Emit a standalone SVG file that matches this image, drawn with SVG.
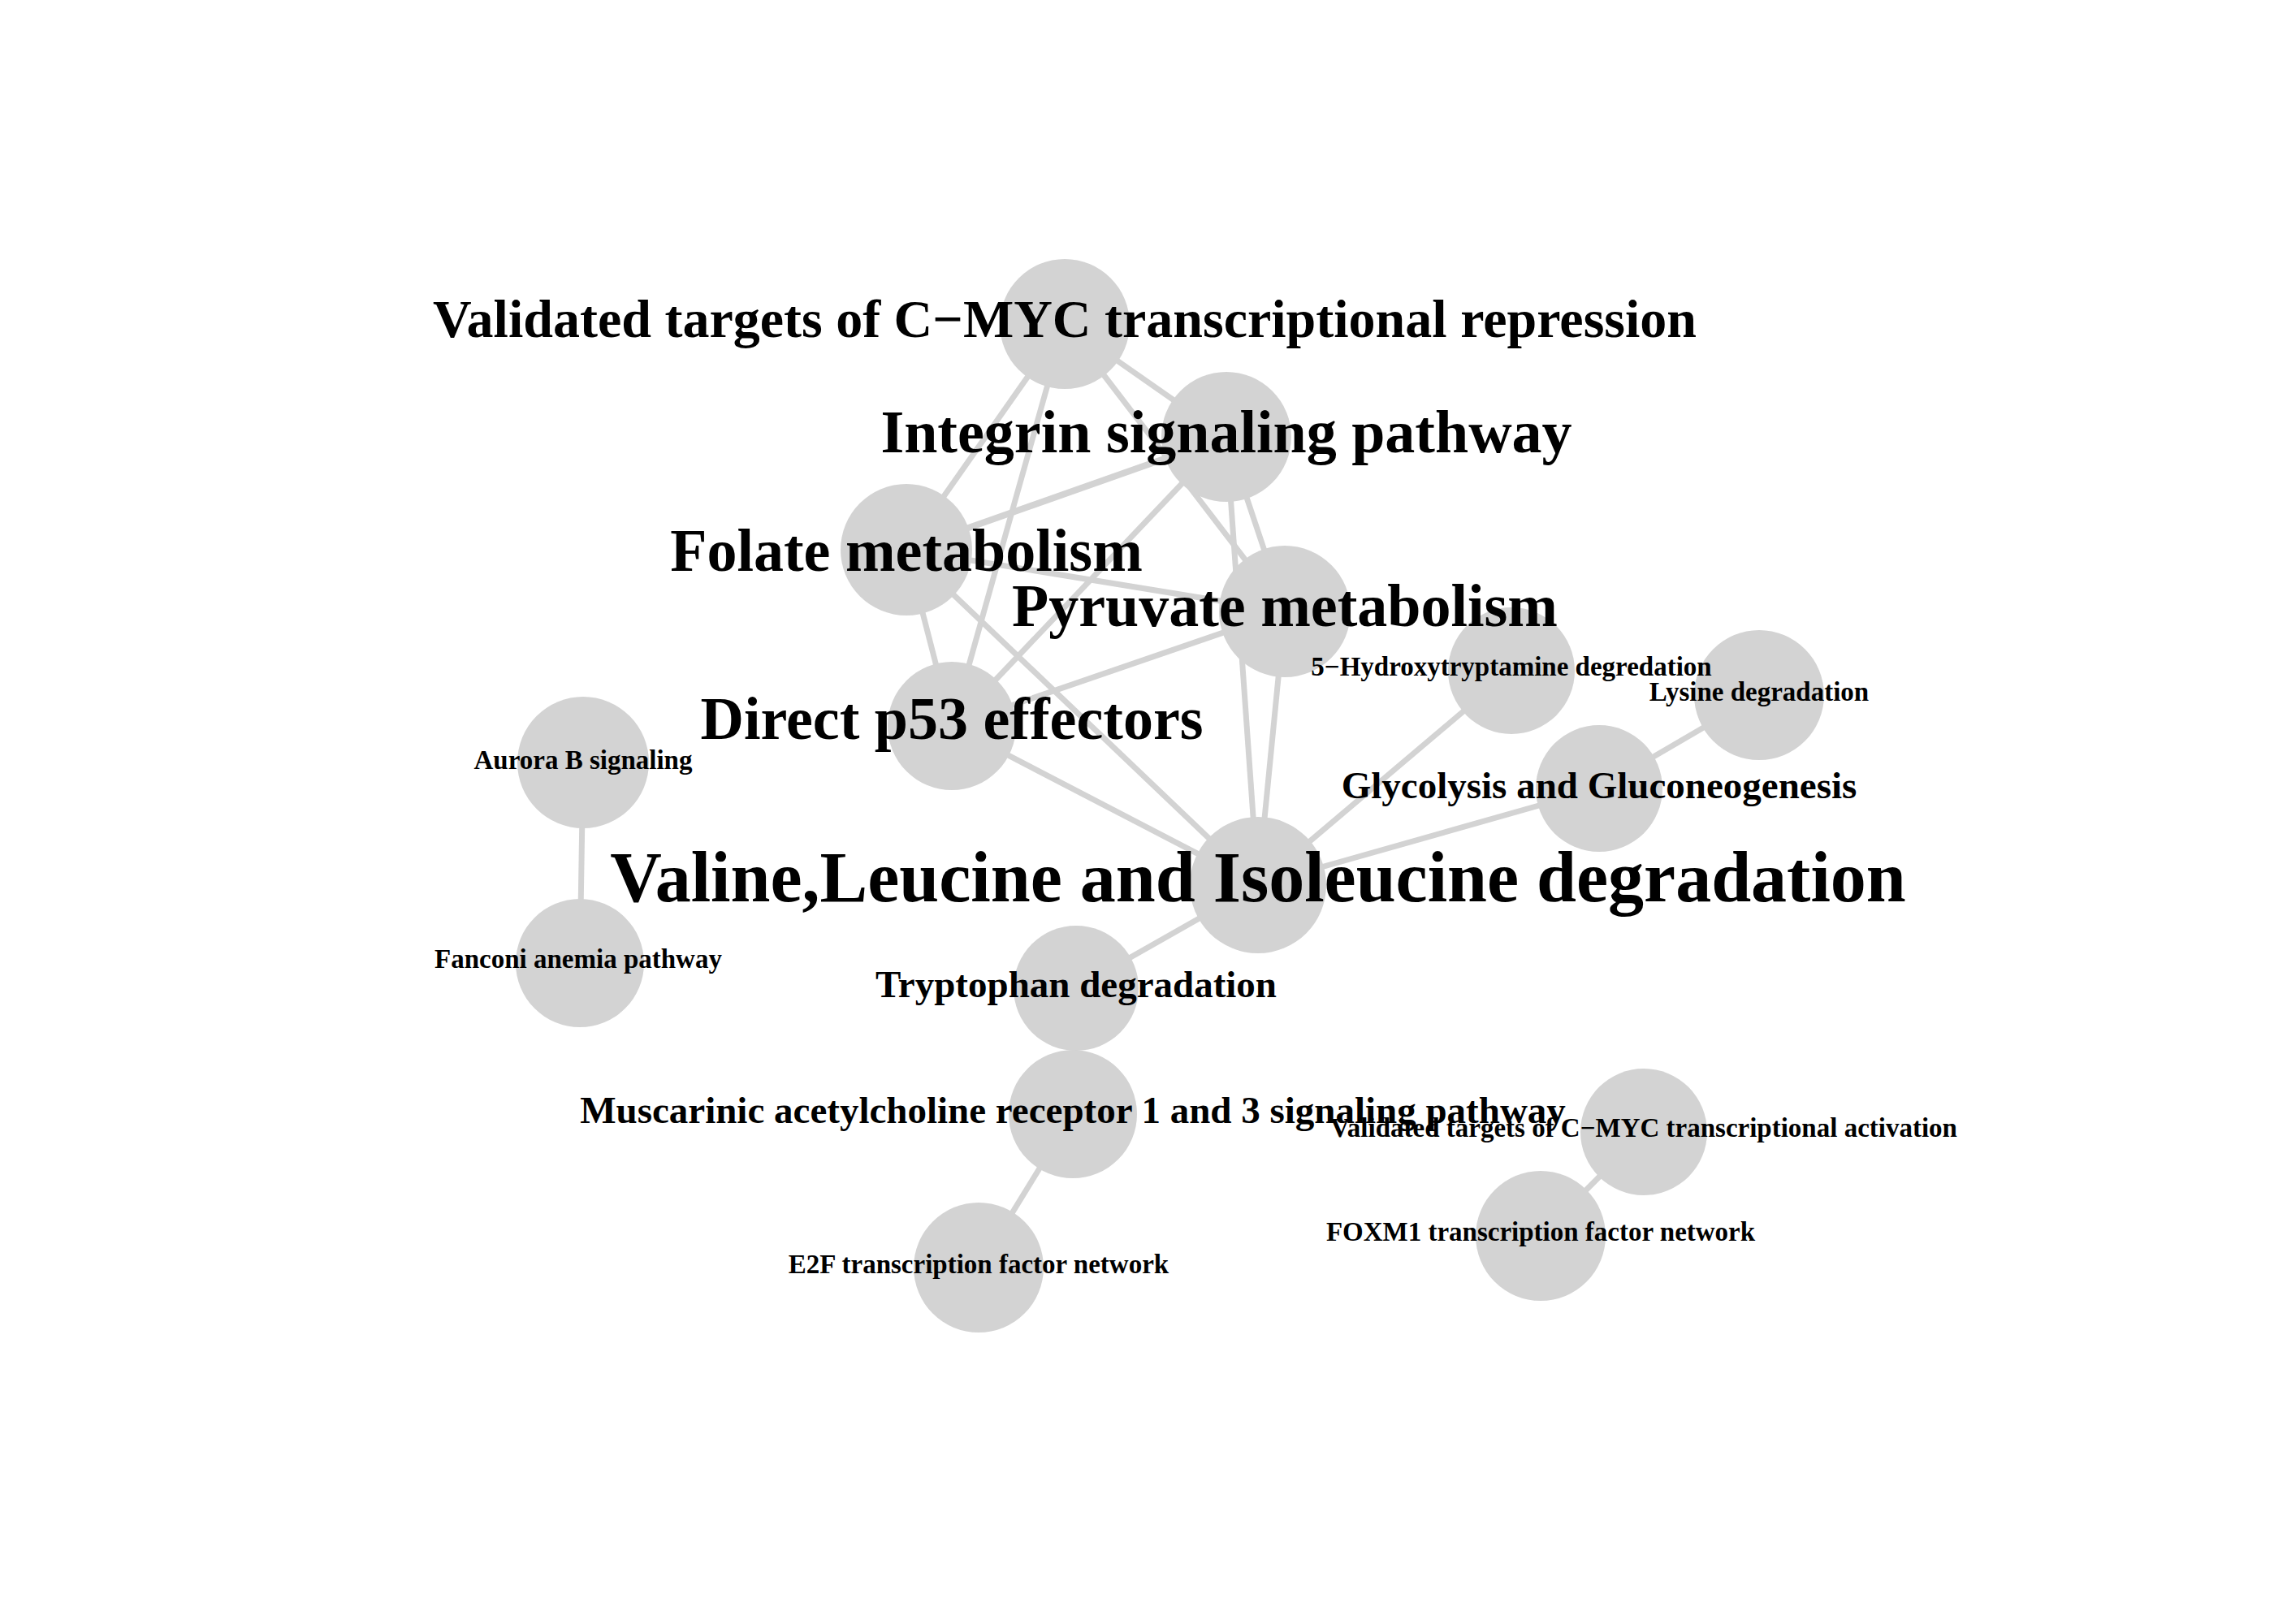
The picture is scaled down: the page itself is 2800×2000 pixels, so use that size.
<svg xmlns="http://www.w3.org/2000/svg" width="2800" height="2000" viewBox="0 0 2800 2000">
<style>
.e{stroke:#d3d3d3;stroke-width:7;fill:none}
.n{fill:#d3d3d3}
text{font-family:"Liberation Serif","Times New Roman",serif;font-weight:bold;fill:#000;text-anchor:middle}
.s1{font-size:88px}
.s2{font-size:74px}
.s3{font-size:66px}
.s4{font-size:47px}
.s5{font-size:33px}
</style>
<rect width="2800" height="2000" fill="#fff"/>
<g id="edges">
<line class="e" x1="1311" y1="399" x2="1510" y2="538"/>
<line class="e" x1="1311" y1="399" x2="1116" y2="677"/>
<line class="e" x1="1311" y1="399" x2="1172" y2="894"/>
<line class="e" x1="1311" y1="399" x2="1582" y2="753"/>
<line class="e" x1="1510" y1="538" x2="1116" y2="677" style="stroke-width:8"/>
<line class="e" x1="1510" y1="538" x2="1172" y2="894"/>
<line class="e" x1="1510" y1="538" x2="1582" y2="753"/>
<line class="e" x1="1510" y1="538" x2="1549" y2="1090"/>
<line class="e" x1="1116" y1="677" x2="1582" y2="753"/>
<line class="e" x1="1116" y1="677" x2="1172" y2="894"/>
<line class="e" x1="1116" y1="677" x2="1549" y2="1090"/>
<line class="e" x1="1172" y1="894" x2="1582" y2="753"/>
<line class="e" x1="1172" y1="894" x2="1549" y2="1090"/>
<line class="e" x1="1582" y1="753" x2="1549" y2="1090"/>
<line class="e" x1="1549" y1="1090" x2="1861" y2="826"/>
<line class="e" x1="1549" y1="1090" x2="1969" y2="971"/>
<line class="e" x1="1969" y1="971" x2="2166" y2="856"/>
<line class="e" x1="1549" y1="1090" x2="1325" y2="1217"/>
<line class="e" x1="1325" y1="1217" x2="1321" y2="1372"/>
<line class="e" x1="1321" y1="1372" x2="1205" y2="1561"/>
<line class="e" x1="2024" y1="1394" x2="1897" y2="1522"/>
<line class="e" x1="718" y1="939" x2="714" y2="1186"/>
</g>
<g id="nodes">
<g id="n-cmyc-rep"><circle class="n" cx="1311" cy="399" r="80"/></g>
<g id="n-integrin"><circle class="n" cx="1510" cy="538" r="80"/></g>
<g id="n-folate"><circle class="n" cx="1116" cy="677" r="81"/></g>
<g id="n-pyruvate"><circle class="n" cx="1582" cy="753" r="81"/></g>
<g id="n-p53"><circle class="n" cx="1172" cy="894" r="79"/></g>
<g id="n-5ht"><circle class="n" cx="1861" cy="826" r="78"/></g>
<g id="n-lysine"><circle class="n" cx="2166" cy="856" r="80"/></g>
<g id="n-glyco"><circle class="n" cx="1969" cy="971" r="78"/></g>
<g id="n-valine"><circle class="n" cx="1549" cy="1090" r="84"/></g>
<g id="n-aurora"><circle class="n" cx="718" cy="939" r="81"/></g>
<g id="n-fanconi"><circle class="n" cx="714" cy="1186" r="79"/></g>
<g id="n-tryptophan"><circle class="n" cx="1325" cy="1217" r="77"/></g>
<g id="n-muscarinic"><circle class="n" cx="1321" cy="1372" r="79"/></g>
<g id="n-e2f"><circle class="n" cx="1205" cy="1561" r="80"/></g>
<g id="n-cmyc-act"><circle class="n" cx="2024" cy="1394" r="78"/></g>
<g id="n-foxm1"><circle class="n" cx="1897" cy="1522" r="80"/></g>
</g>
<g id="labels">
<g id="l-cmyc-rep"><text class="s3" x="1311" y="415">Validated targets of C−MYC transcriptional repression</text></g>
<g id="l-integrin"><text class="s2" x="1510" y="557">Integrin signaling pathway</text></g>
<g id="l-folate"><text class="s2" x="1116" y="703">Folate metabolism</text></g>
<g id="l-pyruvate"><text class="s2" x="1582" y="771">Pyruvate metabolism</text></g>
<g id="l-p53"><text class="s2" x="1172" y="910">Direct p53 effectors</text></g>
<g id="l-5ht"><text class="s5" x="1861" y="832">5−Hydroxytryptamine degredation</text></g>
<g id="l-lysine"><text class="s5" x="2166" y="863">Lysine degradation</text></g>
<g id="l-glyco"><text class="s4" x="1969" y="983">Glycolysis and Gluconeogenesis</text></g>
<g id="l-valine"><text class="s1" x="1549" y="1110">Valine,Leucine and Isoleucine degradation</text></g>
<g id="l-aurora"><text class="s5" x="718" y="947">Aurora B signaling</text></g>
<g id="l-fanconi"><text class="s5" x="712" y="1192">Fanconi anemia pathway</text></g>
<g id="l-tryptophan"><text class="s4" x="1325" y="1228">Tryptophan degradation</text></g>
<g id="l-muscarinic"><text class="s4" x="1321" y="1383">Muscarinic acetylcholine receptor 1 and 3 signaling pathway</text></g>
<g id="l-e2f"><text class="s5" x="1205" y="1568">E2F transcription factor network</text></g>
<g id="l-cmyc-act"><text class="s5" x="2024" y="1400">Validated targets of C−MYC transcriptional activation</text></g>
<g id="l-foxm1"><text class="s5" x="1897" y="1528">FOXM1 transcription factor network</text></g>
</g>
</svg>
